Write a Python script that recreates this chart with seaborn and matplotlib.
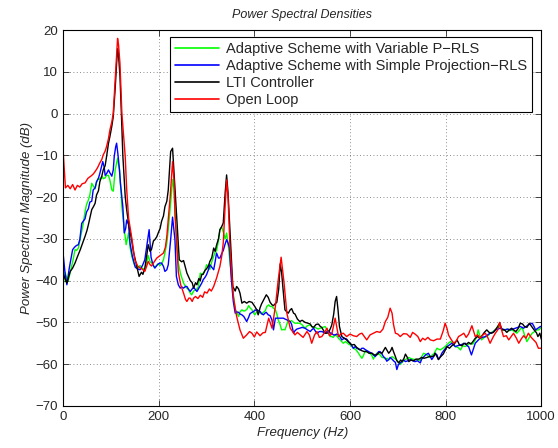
import matplotlib
matplotlib.use("Agg")
import matplotlib.pyplot as plt
import pandas as pd
import seaborn as sns

# ---------------------------------------------------------------------
#  PSD curves (frequency in Hz, magnitude in dB)
# ---------------------------------------------------------------------
freq_green = [0, 4, 8, 11, 14, 18, 21, 25, 28, 32, 35, 39, 42, 46, 49, 53, 56, 60, 63, 67,
              70, 74, 77, 81, 84, 88, 91, 95, 98, 102, 105, 109, 114, 118, 121, 123, 128, 132, 137, 140,
              143, 147, 150, 154, 157, 161, 164, 168, 171, 175, 178, 182, 185, 189, 192, 196, 199, 203, 206, 210,
              213, 217, 220, 225, 229, 232, 234, 238, 241, 246, 252, 257, 262, 266, 269, 273, 276, 280, 283, 287,
              290, 293, 297, 300, 304, 307, 311, 315, 318, 321, 325, 328, 332, 335, 339, 342, 346, 349, 355, 360,
              363, 367, 370, 374, 378, 381, 385, 388, 391, 395, 398, 401, 405, 408, 412, 415, 419, 423, 426, 430,
              433, 437, 440, 444, 447, 450, 454, 457, 461, 464, 468, 471, 475, 478, 482, 485, 490, 495, 500, 506,
              511, 517, 522, 527, 533, 538, 543, 548, 554, 559, 562, 565, 569, 572, 576, 581, 586, 591, 597, 602,
              607, 612, 618, 621, 625, 628, 632, 637, 642, 646, 649, 652, 656, 660, 663, 667, 670, 674, 678, 681,
              685, 688, 693, 698, 702, 705, 709, 712, 716, 720, 723, 726, 731, 736, 741, 747, 750, 754, 758, 761,
              765, 768, 772, 775, 778, 782, 785, 789, 794, 799, 804, 810, 815, 820, 826, 831, 836, 841, 846, 851,
              857, 862, 865, 868, 871, 875, 881, 886, 890, 893, 899, 904, 908, 911, 915, 918, 923, 928, 933, 939,
              944, 949, 955, 960, 965, 970, 975, 981, 986, 991, 995, 1000]
psd_green = [-41.4, -38, -39.5, -40, -38.5, -36.6, -35, -32.6, -32.8, -32.2, -30.5, -28.2, -26.5, -23.5, -21.8, -20.7, -19.5, -16.7, -17.3, -18,
             -16.5, -15.5, -15.8, -15, -15.6, -15.4, -14.8, -14.8, -16, -18.3, -18.6, -13.5, -10.7, -13.5, -18.5, -22.3, -27.8, -31.4, -28.6, -32,
             -33.8, -35.5, -36.4, -36.6, -37, -36.4, -36.9, -37.2, -37.5, -35.6, -34, -35.5, -35.7, -36.5, -36.9, -36.3, -36, -36.4, -36, -35,
             -33.4, -31, -27.8, -21.5, -15.8, -18, -23.8, -31, -35.8, -38.5, -40.6, -41.6, -42.1, -43, -43.4, -42.5, -42.3, -42, -41.5, -38.2,
             -38.7, -38.2, -37.6, -36.2, -36.8, -37.3, -35.5, -34.2, -33.2, -32.8, -30.5, -27.8, -27.2, -28.4, -30, -28.6, -32, -35.5, -42.2, -47,
             -47.5, -48.6, -47.5, -47, -47.3, -47.2, -46.8, -46, -46.5, -47, -47.7, -48.2, -47.5, -47.8, -47.6, -48, -47.6, -47.2, -46.2, -45.8,
             -46.2, -46.2, -46.6, -47, -48, -49.4, -50.6, -51.8, -51.7, -51.8, -50.5, -49.4, -49.8, -49.6, -50, -50.2, -50.2, -50.2, -50.6, -51.4,
             -50.8, -50.6, -51.2, -51.2, -51.6, -51.4, -51.2, -51, -52.2, -53.4, -53.4, -53.6, -53, -53.2, -53.8, -54.4, -55, -54.6, -55.2, -55.5,
             -56.2, -56.5, -57.4, -58, -58.6, -58, -56.8, -57.2, -57.4, -58, -58.8, -58, -57.4, -57.6, -57.8, -58.4, -58.4, -58.8, -58.6, -59,
             -58.6, -58.2, -58.6, -59, -59.6, -60.1, -59.6, -59.2, -58.9, -58.6, -58.4, -58.6, -58.8, -58.9, -59, -59.1, -58.2, -57.4, -57.6, -57.8,
             -58.2, -58.4, -57.8, -57.6, -57, -56.2, -56.4, -56.6, -56.2, -55.8, -55.2, -54.6, -55, -55.8, -56, -56.6, -55.6, -55.8, -55.4, -55,
             -55.2, -54.2, -53.4, -51.8, -53, -54.2, -53.6, -53.4, -53, -52.6, -52.2, -51.8, -51.2, -50.6, -51.4, -51.8, -51.8, -51.6, -52, -51.8,
             -52.2, -52.6, -51.8, -51.2, -53, -54.6, -53.6, -52.6, -52.2, -51.8, -51.8, -51.2]

freq_blue = [0, 4, 8, 13, 17, 20, 24, 28, 32, 35, 39, 42, 46, 49, 53, 56, 60, 63, 67, 70,
             74, 77, 81, 83, 86, 88, 91, 95, 98, 102, 105, 107, 110, 112, 115, 118, 120, 125, 128, 131,
             133, 137, 140, 145, 151, 156, 161, 166, 171, 176, 180, 184, 188, 192, 196, 199, 203, 206, 210, 213,
             217, 220, 225, 229, 234, 237, 241, 245, 248, 252, 256, 259, 262, 266, 270, 273, 277, 280, 283, 287,
             290, 293, 297, 300, 304, 307, 311, 315, 318, 321, 325, 328, 332, 335, 339, 342, 345, 348, 352, 356,
             360, 363, 367, 370, 374, 378, 381, 384, 388, 391, 395, 398, 401, 405, 408, 412, 415, 419, 422, 425,
             429, 433, 437, 440, 444, 447, 450, 455, 461, 464, 468, 471, 475, 478, 482, 485, 489, 495, 500, 506,
             511, 517, 520, 524, 527, 531, 536, 541, 545, 548, 552, 555, 559, 562, 565, 569, 572, 576, 580, 583,
             588, 593, 597, 600, 604, 607, 611, 614, 618, 621, 625, 628, 633, 639, 642, 646, 649, 653, 656, 660,
             663, 667, 670, 674, 677, 681, 684, 688, 691, 695, 698, 701, 705, 709, 712, 716, 721, 726, 731, 736,
             741, 747, 750, 754, 758, 761, 764, 768, 771, 775, 778, 782, 785, 789, 792, 797, 803, 808, 813, 817,
             820, 825, 831, 836, 841, 845, 848, 851, 854, 858, 862, 867, 872, 877, 883, 888, 893, 899, 904, 909,
             914, 919, 925, 930, 935, 941, 946, 951, 956, 960, 963, 968, 973, 977, 981, 985, 988, 993, 998, 1000]
psd_blue = [-33.4, -38, -41, -37, -34.5, -32.6, -32, -31.6, -31.4, -30.2, -26.3, -25.8, -25.2, -23.6, -22.8, -21.2, -21, -18.3, -17.8, -16.3,
            -15.5, -14.3, -12.5, -11.5, -12.8, -14.8, -14.4, -13.5, -14.2, -15, -13.5, -10.3, -8, -7.1, -10, -13.5, -16.7, -22.3, -28.6, -27.5,
            -25.5, -26.6, -31, -34.2, -36.8, -37.2, -37.4, -36.4, -35, -31, -27.8, -34.4, -36.2, -37, -36.4, -36, -35.8, -35.8, -36.6, -37.8,
            -37.4, -36.2, -30.2, -24.8, -30.2, -39, -41, -41.8, -41.5, -41.8, -41.4, -41.4, -42, -42.6, -42, -41.6, -42.2, -42.6, -42, -41.2,
            -40.6, -39.8, -39.2, -38.6, -37.4, -36.2, -36.8, -37.4, -35.5, -33.4, -34.6, -34.6, -33.5, -32.8, -31.2, -30.2, -31, -32.2, -39.8, -45,
            -47.8, -47.5, -47.6, -48, -48.2, -48.6, -49.2, -49.8, -48.8, -47.9, -47.6, -47.4, -47.2, -46.9, -47.2, -47.4, -47.9, -48.2, -47.8, -47.6,
            -48.2, -48.4, -49.5, -51.8, -49, -49, -49, -49, -49, -49.2, -49.4, -49.6, -49.8, -50.5, -52.6, -52, -51.6, -51.4, -51.2, -51.4,
            -51.8, -52.2, -51.8, -51.4, -52, -52.6, -52.2, -52.2, -52.4, -52.6, -52.2, -52, -52.6, -52.6, -53, -53, -52.8, -53, -53.6, -54.2,
            -53.8, -54, -54.6, -55, -55.6, -56.2, -55.8, -56.2, -56.4, -56.6, -56.2, -56.2, -56.6, -57, -57.2, -57.4, -57.8, -58.2, -57.6, -57,
            -57, -57.6, -58.2, -58.6, -59.3, -58.9, -58.4, -58.8, -59.2, -59.6, -61.3, -60.2, -59.7, -59.4, -59, -59.4, -59.2, -58.9, -59.2, -59.4,
            -59.2, -59.7, -58.8, -58.3, -57.8, -57.6, -57.4, -58.2, -58.9, -58.2, -57.4, -57.8, -58.9, -58.2, -57.4, -56.6, -55.8, -55.4, -55, -55.4,
            -55.8, -55.6, -55.4, -55.2, -55, -55.6, -55.8, -56.8, -57.8, -56.4, -55, -54.4, -53.8, -53.6, -53.4, -53, -52.6, -52.4, -51.8, -51.6,
            -51.4, -51.6, -51.8, -51.6, -51.8, -51.6, -51.4, -51.2, -51, -51.2, -51.4, -51, -50.6, -50.4, -50.2, -51, -51.8, -51.4, -51, -51]

freq_black = [0, 4, 8, 12, 15, 20, 25, 30, 36, 41, 46, 50, 53, 57, 60, 64, 67, 70, 74, 77,
              81, 84, 88, 91, 95, 98, 102, 105, 109, 112, 114, 116, 119, 122, 125, 130, 133, 137, 143, 147,
              151, 155, 159, 164, 167, 171, 175, 178, 182, 185, 189, 192, 196, 199, 203, 206, 210, 213, 217, 220,
              225, 229, 232, 237, 243, 248, 252, 255, 259, 262, 266, 270, 273, 277, 280, 284, 287, 290, 293, 297,
              300, 304, 307, 311, 315, 318, 321, 325, 328, 332, 335, 339, 342, 345, 349, 355, 360, 363, 367, 370,
              374, 379, 384, 389, 395, 401, 405, 408, 412, 415, 420, 425, 429, 433, 437, 440, 444, 447, 451, 454,
              457, 460, 464, 468, 471, 475, 478, 482, 485, 490, 495, 500, 506, 512, 517, 520, 524, 529, 534, 538,
              541, 545, 548, 552, 555, 559, 562, 566, 569, 572, 575, 578, 583, 588, 593, 598, 604, 609, 614, 619,
              625, 630, 635, 640, 646, 651, 656, 661, 667, 670, 674, 677, 681, 685, 688, 691, 695, 698, 702, 706,
              709, 713, 716, 720, 723, 728, 733, 738, 744, 747, 750, 755, 761, 766, 771, 776, 778, 782, 785, 789,
              795, 803, 808, 813, 818, 824, 829, 834, 838, 843, 848, 853, 857, 862, 867, 872, 876, 881, 886, 891,
              895, 900, 904, 909, 913, 918, 923, 928, 933, 938, 942, 947, 952, 956, 961, 965, 970, 975, 980, 985,
              990, 993, 997, 1000]
psd_black = [-38.2, -39.5, -40.6, -39, -37.8, -37, -35.8, -34.3, -32.6, -31, -29.4, -28, -26.6, -24.5, -23, -22.2, -21.5, -19.5, -18.5, -16.3,
             -15, -13.5, -12.5, -10.3, -7.1, -5.5, -3, -0.7, 6, 12, 15.5, 14, 9, 0, -10, -19.9, -23, -26.3, -30, -33,
             -35, -37, -39, -38, -38.5, -37, -34, -31.4, -33, -32.5, -30.5, -30.2, -29.5, -28.6, -27.5, -25.8, -24.5, -22.3, -21, -18.3,
             -9.1, -8.3, -14, -23.9, -35, -35.5, -35.2, -36.5, -38.2, -39, -40, -40.5, -41.8, -40.5, -41, -39.5, -40, -38.5, -38.5, -37.5,
             -37.2, -36.5, -35.4, -34.5, -32.2, -33, -31.5, -30, -27.8, -27, -26.2, -19, -14.7, -19, -27.8, -41.4, -42.5, -41.4, -42, -43,
             -45.4, -45, -45.4, -45, -45.2, -46.2, -47, -48.2, -46.5, -45.6, -44.5, -43.4, -44, -45.2, -45.8, -46, -45.5, -45.2, -42, -36,
             -38, -42, -47, -47.5, -47.8, -47, -46.7, -47.8, -48, -49.2, -49.8, -49.5, -50, -50.2, -50.4, -51, -51.2, -50.5, -50.4, -51,
             -51.2, -52, -52.6, -52.6, -52.4, -51.5, -50.6, -48, -45, -43.8, -47, -51, -53.4, -53.8, -54.2, -54.8, -55.4, -55.3, -56, -56.4,
             -56.8, -57, -57, -57.4, -57.4, -57.8, -57.8, -57.2, -57.4, -56.8, -56, -56.6, -57.4, -56.8, -56, -57, -58.2, -59.2, -59.7, -59,
             -59.4, -58.6, -57.6, -58.4, -59.4, -59, -59.2, -58.8, -58.8, -58.6, -58.4, -58.6, -58.4, -58.2, -58.2, -58, -57.4, -58.2, -58.9, -58.3,
             -57.6, -55.8, -56.2, -55.6, -55.2, -54.2, -55.4, -55.6, -55, -55.3, -54.8, -55.2, -54.6, -53.8, -53.4, -53.8, -53.2, -52.4, -51.8, -52.4,
             -52.6, -52.4, -51.8, -51, -50.2, -51.8, -51.8, -52.4, -51.8, -51.4, -51.8, -52.2, -51.4, -50.2, -50.4, -51, -51.2, -50.2, -51, -51.8,
             -52.5, -53.4, -52.6, -54]

freq_red = [0, 5, 10, 15, 20, 25, 30, 35, 40, 46, 52, 58, 63, 67, 72, 77, 81, 84, 88, 91,
            95, 98, 102, 105, 109, 114, 116, 119, 123, 127, 130, 133, 137, 144, 150, 156, 161, 166, 171, 175,
            178, 182, 185, 190, 196, 203, 210, 214, 217, 221, 224, 229, 232, 234, 238, 241, 246, 252, 256, 259,
            263, 266, 270, 273, 277, 282, 287, 292, 296, 301, 306, 310, 315, 321, 328, 332, 335, 339, 342, 345,
            349, 356, 363, 370, 377, 384, 390, 395, 400, 405, 412, 418, 423, 430, 437, 444, 450, 456, 462, 468,
            475, 485, 490, 496, 502, 510, 515, 520, 526, 531, 536, 541, 546, 552, 557, 562, 569, 576, 581, 586,
            593, 600, 607, 614, 620, 625, 630, 635, 642, 649, 656, 663, 669, 674, 679, 684, 688, 691, 695, 700,
            705, 712, 719, 726, 731, 736, 742, 747, 752, 757, 763, 768, 775, 782, 789, 795, 799, 803, 806, 811,
            817, 822, 827, 833, 838, 843, 848, 855, 862, 867, 872, 878, 883, 888, 893, 899, 904, 909, 913, 917,
            921, 927, 932, 937, 942, 948, 953, 958, 963, 968, 973, 979, 984, 989, 994, 1000]
psd_red = [-8.7, -17.8, -17.2, -18, -17, -18.3, -17.2, -17.6, -16.8, -16.6, -15.5, -15, -14.5, -13.9, -13, -11.8, -11, -9.9, -9, -7.9,
           -6, -3.9, -2, 0.1, 8, 18, 16.5, 12, 0, -6, -10.3, -18, -25, -30, -35, -36.5, -37, -37.3, -37.8, -36.5,
           -35.4, -36.2, -36.5, -35.6, -34.6, -34, -33.4, -32, -29.4, -24, -19.9, -11.5, -16, -23.8, -32, -38, -41, -43, -44.5, -45,
           -44.2, -44.2, -45, -44.2, -43.8, -44.3, -43.5, -44, -42.7, -43, -42, -42.5, -41.4, -39.4, -36.6, -34, -31, -22, -15.9, -20,
           -31.8, -43.8, -48.6, -51.8, -53.8, -53, -52.2, -52.6, -53.5, -52.3, -53.2, -52.5, -52.4, -49, -51.4, -46.2, -39.8, -34.4, -40.4, -47.8,
           -51.4, -53, -52.4, -53, -53.6, -52.2, -53, -55, -53, -52.2, -53.6, -53.4, -52.6, -51.4, -53.2, -52.8, -49, -53.4, -52.8, -52.6,
           -53.4, -52.8, -53.2, -53.4, -52.8, -52.6, -53.4, -54.2, -53, -52.6, -52.2, -52.4, -51.6, -49.8, -48.8, -46.6, -47.8, -50.5, -52.6, -52.8,
           -53.4, -52.7, -52.8, -53.6, -52.4, -52.8, -53.4, -54.6, -53.8, -54.2, -53.6, -54.2, -54.4, -54, -54, -52, -50.2, -51.5, -53, -54,
           -55, -54.5, -53.4, -53, -52.6, -53.6, -52.8, -50.8, -53.4, -53, -53.8, -53, -52.6, -53.6, -55, -53.6, -52.6, -51.8, -50, -51.8,
           -53.4, -53.2, -54.2, -53.4, -52.6, -53.8, -55, -54, -53.2, -53.8, -52.6, -53.6, -54.2, -54.8, -56.2, -56.2]

series_names = ["Adaptive Scheme with Variable P\u2212RLS",
                "Adaptive Scheme with Simple Projection\u2212RLS",
                "LTI Controller",
                "Open Loop"]
series_colors = ["#00ff00", "#0000ff", "#000000", "#ff0000"]

x_ticks = [0, 200, 400, 600, 800, 1000]
y_ticks = [-70, -60, -50, -40, -30, -20, -10, 0, 10, 20]

# long-form table for seaborn
frames = []
for name, f, p in zip(series_names,
                      [freq_green, freq_blue, freq_black, freq_red],
                      [psd_green, psd_blue, psd_black, psd_red]):
    frames.append(pd.DataFrame({"freq": f, "psd": p, "series": name}))
df_psd = pd.concat(frames, ignore_index=True)

sns.set_style("ticks")
plt.rcParams["font.family"] = ["Liberation Sans", "DejaVu Sans"]

fig = plt.figure(figsize=(5.58, 4.48), dpi=100)
ax = fig.add_axes([0.113, 0.094, 0.857, 0.839])

sns.lineplot(data=df_psd, x="freq", y="psd", hue="series", hue_order=series_names,
             palette=dict(zip(series_names, series_colors)), estimator=None, sort=False,
             linewidth=1.0, ax=ax)

ax.set_xlim(0, 1000)
ax.set_ylim(-70, 20)
ax.set_xticks(x_ticks)
ax.set_yticks(y_ticks)
ax.grid(True, color="black", linestyle=(0, (1, 3)), linewidth=0.6, alpha=0.6)
ax.tick_params(direction="in", top=True, right=True, labelsize=9.5, length=4, width=0.6)
for s in ax.spines.values():
    s.set_linewidth(0.8)
    s.set_color("black")

ax.set_title("Power Spectral Densities", fontsize=9, style="italic", pad=9)
ax.set_xlabel("Frequency (Hz)", fontsize=9.5, style="italic", labelpad=3)
ax.set_ylabel("Power Spectrum Magnitude (dB)", fontsize=9.5, style="italic", labelpad=2)

leg = ax.legend(loc="upper right", bbox_to_anchor=(0.981, 0.981), borderaxespad=0,
                fontsize=10.5, frameon=True, fancybox=False, framealpha=1,
                edgecolor="black", handlelength=3.0, handletextpad=0.5,
                borderpad=0.35, labelspacing=0.2, title=None)
leg.get_frame().set_linewidth(0.8)
for ln in leg.get_lines():
    ln.set_linewidth(1.2)

fig.savefig("out.png", dpi=100)
